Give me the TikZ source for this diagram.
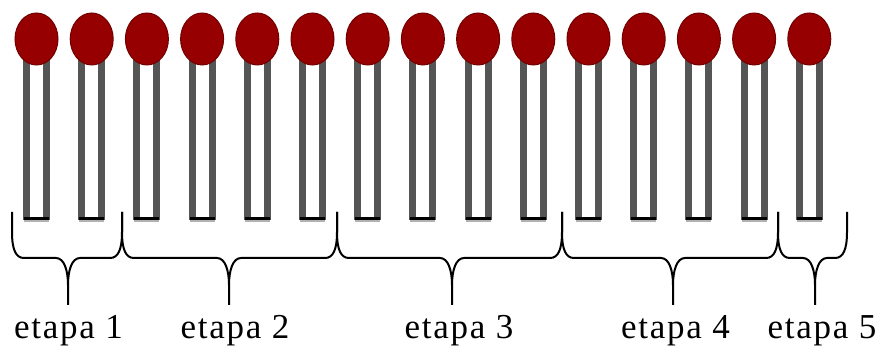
\documentclass[tikz,border=0pt]{standalone}
\usepackage{fontspec}
\setmainfont{Liberation Serif}
\usetikzlibrary{shapes.geometric}
\definecolor{headred}{RGB}{150,0,0}
\definecolor{headedge}{RGB}{115,0,0}
\definecolor{stickgray}{RGB}{85,85,85}
\tikzset{
  matchhead/.style={ellipse, fill=headred, draw=headedge, line width=1pt, minimum width=43pt, minimum height=52pt, inner sep=0pt},
  stickside/.style={fill=stickgray},
  stickinner/.style={fill=white},
  bracepath/.style={draw=black, line width=2pt, line join=round},
  stagelabel/.style={anchor=base, inner sep=0pt, font=\fontsize{35}{40}\selectfont\addfontfeature{LetterSpace=5}}
}
% curly brace from xa to xb with its tip at xm
\newcommand{\stagebrace}[3]{%
  \draw[bracepath] (#1,212) -- (#1,232)
    .. controls (#1,250) and (#1+4,258) .. (#1+12,258)
    -- (#2-12,258) .. controls (#2-4,258) and (#2,270) .. (#2,285)
    -- (#2,305);
  \draw[bracepath] (#3,212) -- (#3,232)
    .. controls (#3,250) and (#3-4,258) .. (#3-12,258)
    -- (#2+12,258) .. controls (#2+4,258) and (#2,270) .. (#2,285);
}
\begin{document}
\begin{tikzpicture}[x=1pt,y=-1pt]
\useasboundingbox (0,0) rectangle (881,347);
% matches: stick first, head on top
\foreach \i in {0,...,14}{
  \pgfmathsetmacro{\cx}{36.5+55.2*\i}
  \fill[stickside] (\cx-13.5,60) rectangle (\cx+13.5,220);
  \fill[stickinner] (\cx-6.5,60) rectangle (\cx+6.5,217);
  \fill[black] (\cx-12.5,217) rectangle (\cx+12.5,220);
  \fill[black!30] (\cx-12.5,220) rectangle (\cx+12.5,222);
  \node[matchhead] (head\i) at (\cx,39) {};
}
% braces grouping the matches
\stagebrace{12}{68}{122}
\stagebrace{122}{229}{337}
\stagebrace{337}{452}{562}
\stagebrace{562}{673}{778}
\stagebrace{778}{815}{847}
% stage labels
\node[stagelabel] (s1) at (68.5,339) {etapa 1};
\node[stagelabel] (s2) at (235,339) {etapa 2};
\node[stagelabel] (s3) at (459,339) {etapa 3};
\node[stagelabel] (s4) at (675.5,339) {etapa 4};
\node[stagelabel] (s5) at (822,339) {etapa 5};
\end{tikzpicture}
\end{document}
